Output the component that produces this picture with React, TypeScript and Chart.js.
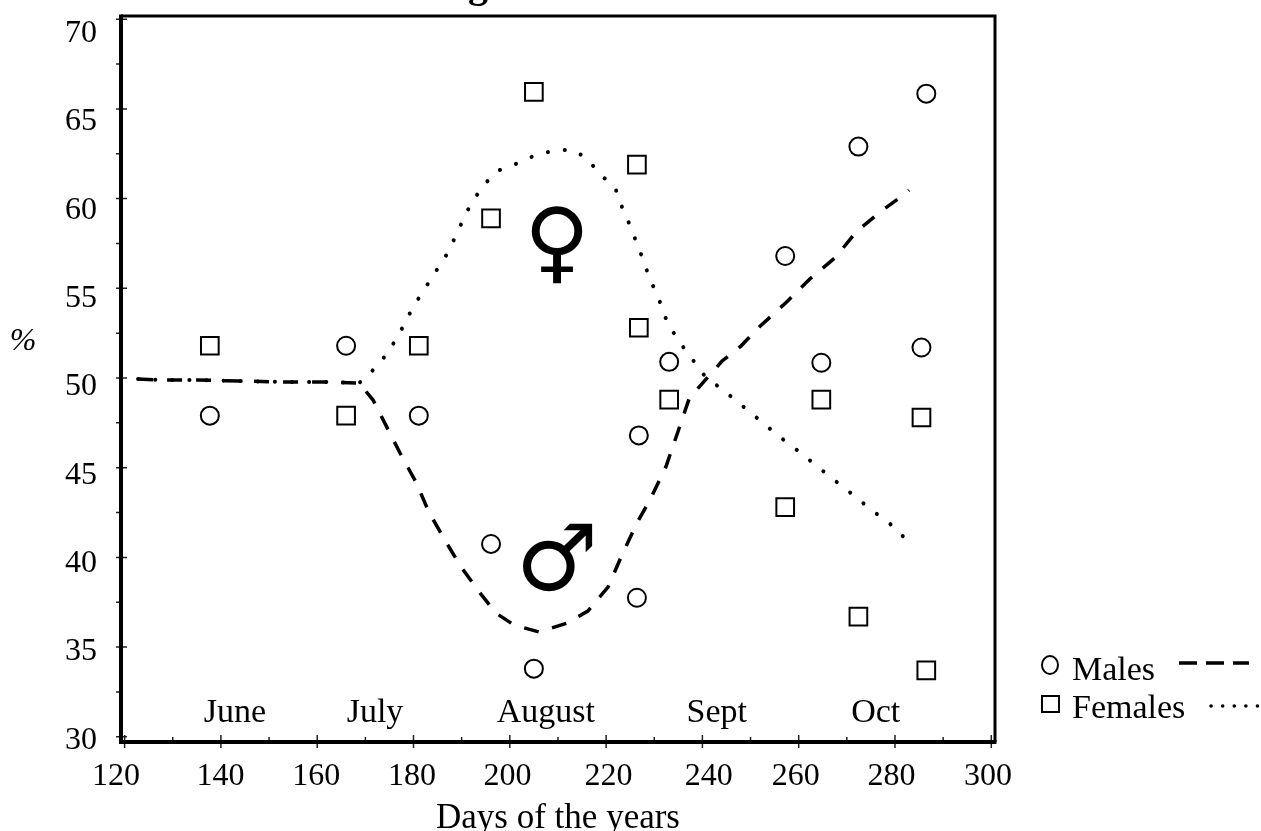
import React, { useEffect, useRef } from "react";
import { Chart, registerables } from "chart.js";

Chart.register(...registerables);

const maleDays = [137.7, 166, 181.1, 196.1, 205, 226.4, 226.8, 233.1, 257.2, 264.7, 272.4, 285.5, 286.5];
const malePct = [47.9, 51.8, 47.9, 40.75, 33.8, 37.75, 46.8, 50.9, 56.8, 50.85, 62.9, 51.7, 65.85];
const femaleDays = [137.7, 166, 181.1, 196.1, 205, 226.4, 226.8, 233.1, 257.2, 264.7, 272.4, 285.5, 286.5];
const femalePct = [51.8, 47.9, 51.8, 58.9, 65.95, 61.9, 52.8, 48.8, 42.8, 48.8, 36.7, 47.8, 33.7];

const maleCurveDays = [122.8, 127.6, 135.2, 143.8, 152.7, 161.4, 168.7, 171.6, 173.5, 177.2, 180.5, 183.2, 186.5, 189.9, 193.8, 197.1, 200.9, 206.1, 211.9, 216.2, 220.4, 223.3, 226.4, 229.1, 232.4, 234.9, 237.3, 244.1, 248, 251.8, 257.5, 262.3, 267.7, 271.9, 276.9, 281.7, 282.9];
const maleCurvePct = [49.94, 49.89, 49.89, 49.83, 49.78, 49.78, 49.72, 48.77, 47.77, 45.82, 44.2, 42.53, 40.97, 39.46, 38.02, 36.9, 36.23, 35.84, 36.34, 37.01, 38.35, 40.13, 41.92, 43.2, 45.04, 46.99, 48.89, 50.95, 51.78, 52.84, 54.24, 55.52, 56.74, 58.14, 59.25, 60.2, 60.48];
const femaleCurveDays = [122.8, 127.6, 135.2, 143.8, 152.7, 161.4, 168.7, 171.1, 173.7, 176.6, 178.7, 180.3, 182.3, 184.3, 186.7, 189, 190.9, 194.2, 197.4, 201.7, 205.4, 209.8, 213.2, 216.2, 218.3, 221.9, 223.3, 225.2, 226.5, 227.9, 228.9, 230.8, 232.6, 234.9, 236.8, 240.5, 245.3, 249.1, 252.6, 256.1, 259.9, 263.8, 267.1, 271.1, 274.1, 277.3, 280.4, 282.8];
const femaleCurvePct = [49.94, 49.89, 49.89, 49.83, 49.78, 49.78, 49.72, 50.3, 51.08, 52.23, 53.34, 54.12, 54.96, 55.8, 56.8, 58.03, 59.2, 60.65, 61.54, 61.98, 62.43, 62.71, 62.71, 62.21, 61.48, 60.59, 59.53, 58.36, 57.41, 56.47, 55.63, 54.52, 53.18, 52.12, 51.45, 50.11, 49.11, 48.27, 47.49, 46.71, 45.93, 45.09, 44.37, 43.53, 42.87, 42.2, 41.58, 40.8];

const xMarks = [120, 130, 140, 150, 160, 170, 180, 190, 200, 210, 220, 230, 240, 250, 260, 270, 280, 290, 300];
const yMarks = [30, 32.5, 35, 37.5, 40, 42.5, 45, 47.5, 50, 52.5, 55, 57.5, 60, 62.5, 65, 67.5, 70];
const xTickLabels = ["120", "140", "160", "180", "200", "220", "240", "260", "280", "300"];
const xTickAnchors = [118.2, 139.9, 159.8, 179.7, 199.5, 220.5, 241.3, 259.4, 279.3, 299.3];
const yTickValues = [30, 35, 40, 45, 50, 55, 60, 65, 70];
const months = ["June", "July", "August", "Sept", "Oct"];
const monthDays = [142.9, 172, 207.5, 243, 276];

const SERIF = '"Liberation Serif", serif';
const INK = "#000";

const overlay = {
  id: "overlay",
  afterDraw(chart: any) {
    const { ctx, chartArea: a, scales } = chart;
    const x = scales.x, y = scales.y;
    ctx.save();
    ctx.fillStyle = INK;
    ctx.strokeStyle = "#222";
    ctx.lineWidth = 1.5;
    ctx.beginPath();
    for (const t of x.ticks) {
      const p = x.getPixelForValue(t.value);
      const major = t.value % 20 === 0;
      ctx.moveTo(p, a.bottom + (major ? 6 : 0));
      ctx.lineTo(p, a.bottom - (major ? 7 : 5));
    }
    for (const t of y.ticks) {
      const p = y.getPixelForValue(t.value);
      const major = t.value % 5 === 0;
      ctx.moveTo(a.left - 5, p);
      ctx.lineTo(a.left + (major ? 6 : 0), p);
    }
    ctx.stroke();

    ctx.strokeStyle = INK;
    ctx.lineWidth = 3;
    ctx.beginPath();
    ctx.moveTo(a.left, a.top);
    ctx.lineTo(a.right, a.top);
    ctx.lineTo(a.right, a.bottom);
    ctx.stroke();
    ctx.lineWidth = 4;
    ctx.beginPath();
    ctx.moveTo(a.left, a.top - 1.5);
    ctx.lineTo(a.left, a.bottom);
    ctx.lineTo(a.right + 1.5, a.bottom);
    ctx.stroke();

    ctx.font = `34px ${SERIF}`;
    ctx.textAlign = "center";
    ctx.textBaseline = "alphabetic";
    months.forEach((m, i) => ctx.fillText(m, x.getPixelForValue(monthDays[i]), y.getPixelForValue(30.8)));

    ctx.font = `italic 32px ${SERIF}`;
    ctx.fillText("%", 23, 350);

    ctx.font = `bold 40px ${SERIF}`;
    ctx.fillText("g", 478, -3);

    ctx.font = 'bold 90px "DejaVu Sans"';
    ctx.fillText("♀", x.getPixelForValue(209.8), y.getPixelForValue(55.9));
    ctx.font = 'bold 92px "DejaVu Sans"';
    ctx.fillText("♂", x.getPixelForValue(209.8), y.getPixelForValue(38.18));

    ctx.textAlign = "left";
    ctx.font = `34px ${SERIF}`;
    ctx.fillText("Males", 1072, 680);
    ctx.fillText("Females", 1072, 718);
    ctx.lineWidth = 2;
    ctx.beginPath();
    ctx.ellipse(1050, 665, 8, 9, 0, 0, Math.PI * 2);
    ctx.stroke();
    ctx.strokeRect(1042, 696, 17, 16);
    ctx.lineWidth = 3.5;
    ctx.setLineDash([18, 9]);
    ctx.beginPath();
    ctx.moveTo(1179, 663);
    ctx.lineTo(1249, 663);
    ctx.stroke();
    ctx.lineCap = "round";
    ctx.setLineDash([0.1, 11.5]);
    ctx.beginPath();
    ctx.moveTo(1211, 706);
    ctx.lineTo(1258, 706);
    ctx.stroke();
    ctx.restore();
  },
};

export default function App() {
  const ref = useRef<HTMLCanvasElement>(null);
  useEffect(() => {
    document.body.style.margin = "0";
    const chart = new Chart(ref.current!, {
      type: "scatter",
      data: {
        datasets: [
          {
            label: "Males",
            data: maleDays.map((d, i) => ({ x: d, y: malePct[i] })),
            pointStyle: "circle",
            pointRadius: 9,
            pointBorderWidth: 2,
            pointBorderColor: INK,
            pointBackgroundColor: "transparent",
          },
          {
            label: "Females",
            data: femaleDays.map((d, i) => ({ x: d, y: femalePct[i] })),
            pointStyle: "rect",
            pointRadius: 12.5,
            pointBorderWidth: 2,
            pointBorderColor: INK,
            pointBackgroundColor: "transparent",
          },
          {
            label: "Males curve",
            data: maleCurveDays.map((d, i) => ({ x: d, y: maleCurvePct[i] })),
            showLine: true,
            pointRadius: 0,
            borderColor: INK,
            borderWidth: 3.5,
            borderDash: [15, 14],
            tension: 0,
          },
          {
            label: "Females curve",
            data: femaleCurveDays.map((d, i) => ({ x: d, y: femaleCurvePct[i] })),
            showLine: true,
            pointRadius: 0,
            borderColor: INK,
            borderWidth: 4,
            borderDash: [0.1, 17],
            borderCapStyle: "round",
            tension: 0,
          },
        ],
      },
      plugins: [overlay],
      options: {
        animation: false,
        responsive: false,
        layout: { padding: { top: 16, right: 266, left: 0, bottom: 0 } },
        plugins: { legend: { display: false }, tooltip: { enabled: false }, title: { display: false } },
        scales: {
          x: {
            type: "linear",
            position: "bottom",
            min: 119.25,
            max: 300.77,
            grid: { display: false },
            border: { display: false },
            ticks: { display: false },
            afterBuildTicks: (s: any) => { s.ticks = xMarks.map((value) => ({ value })); },
            afterFit: (s: any) => { s.height = 0; s.paddingLeft = 0; s.paddingRight = 0; },
          },
          xTicks: {
            type: "linear",
            position: "bottom",
            min: 119.25,
            max: 300.77,
            grid: { display: false },
            border: { display: false },
            ticks: {
              autoSkip: false,
              maxRotation: 0,
              padding: 7,
              color: INK,
              font: { family: SERIF, size: 32 },
              callback: (_v: any, i: number) => xTickLabels[i],
            },
            title: {
              display: true,
              text: "Days of the years",
              color: INK,
              font: { family: SERIF, size: 35 },
              padding: { top: 2, bottom: -9 },
            },
            afterBuildTicks: (s: any) => { s.ticks = xTickAnchors.map((value) => ({ value })); },
            afterFit: (s: any) => { s.height = 89; s.paddingLeft = 0; s.paddingRight = 0; },
          },
          y: {
            type: "linear",
            position: "left",
            min: 29.71,
            max: 70.18,
            grid: { display: false },
            border: { display: false },
            ticks: { display: false },
            afterBuildTicks: (s: any) => { s.ticks = yMarks.map((value) => ({ value })); },
            afterFit: (s: any) => { s.width = 0; s.paddingTop = 0; s.paddingBottom = 0; },
          },
          yTicks: {
            type: "linear",
            position: "left",
            min: 29.91,
            max: 70.98,
            grid: { display: false },
            border: { display: false },
            ticks: {
              autoSkip: false,
              padding: 16,
              color: INK,
              font: { family: SERIF, size: 32 },
              callback: (v: any) => String(v),
            },
            afterBuildTicks: (s: any) => { s.ticks = yTickValues.map((value) => ({ value })); },
            afterFit: (s: any) => { s.width = 121; s.paddingTop = 0; s.paddingBottom = 0; },
          },
        },
      },
    } as any);
    return () => chart.destroy();
  }, []);
  return <canvas ref={ref} width={1261} height={831} style={{ display: "block", width: 1261, height: 831 }} />;
}
